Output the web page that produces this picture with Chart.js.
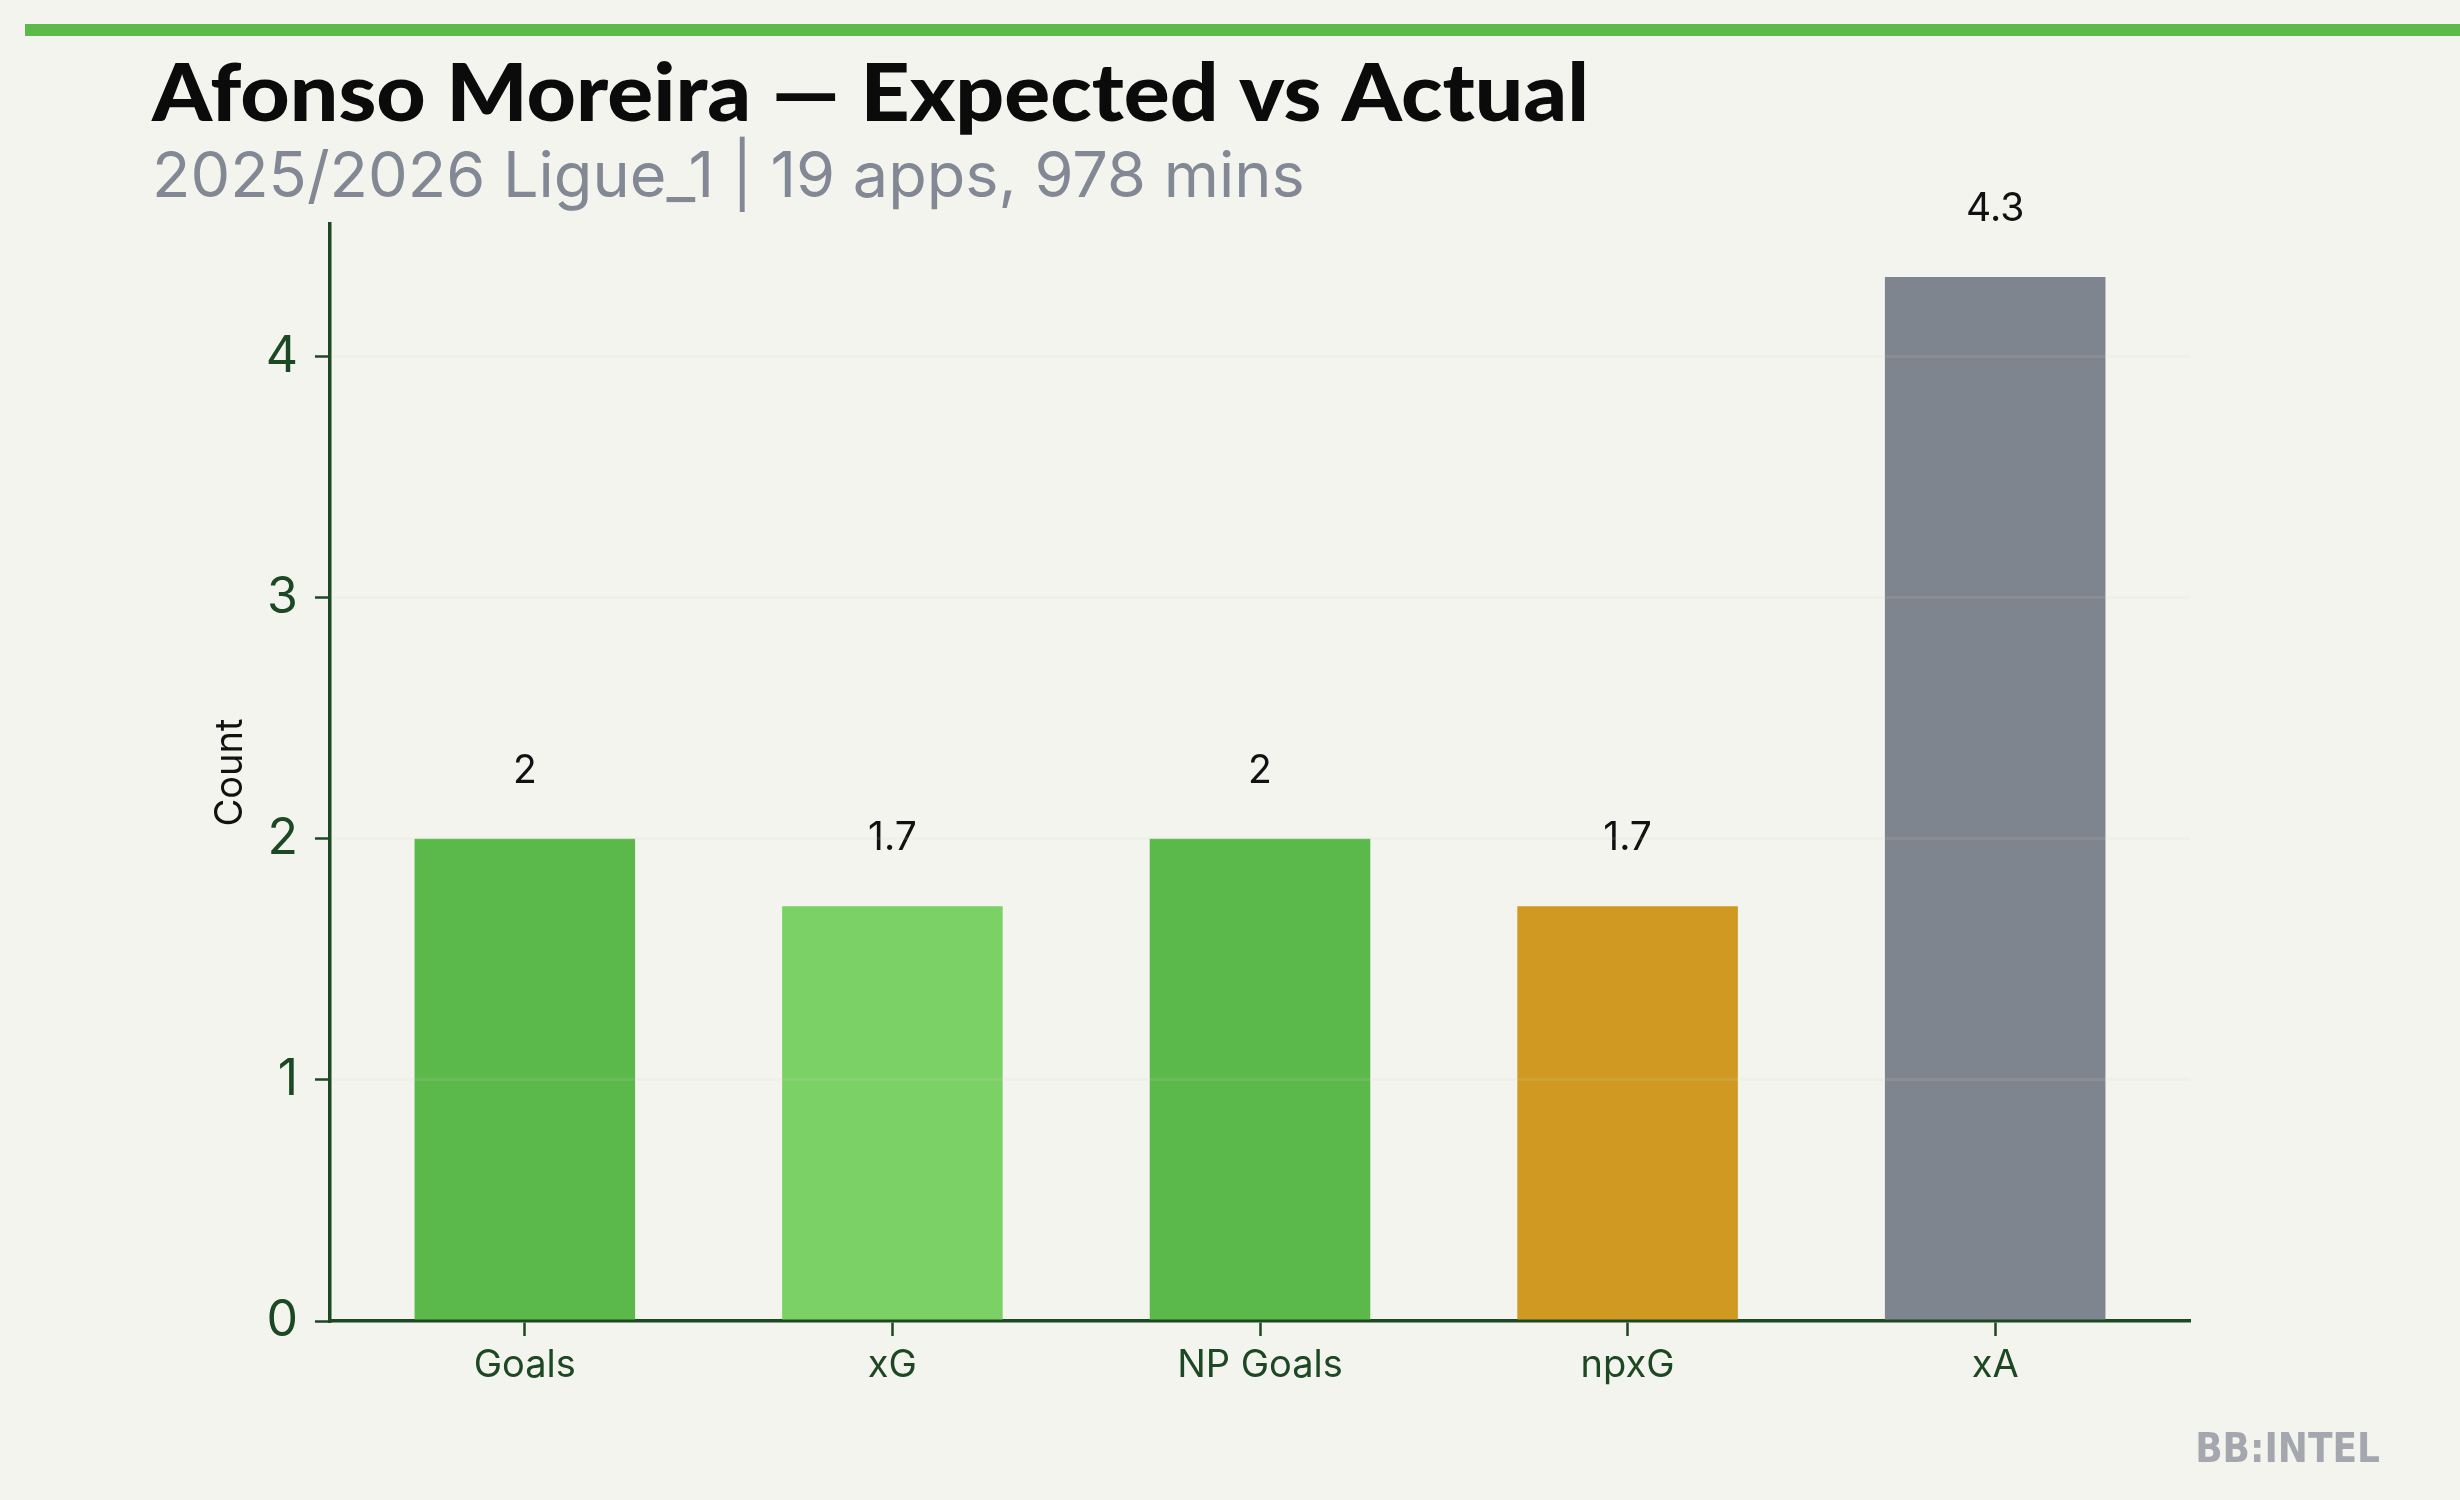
<!DOCTYPE html>
<html>
<head>
<meta charset="utf-8">
<title>Afonso Moreira — Expected vs Actual</title>
<script src="https://cdn.jsdelivr.net/npm/chart.js@4.4.1/dist/chart.umd.min.js"></script>
<style>
  html, body { margin: 0; padding: 0; background: #f4f4ef; }
  canvas { display: block; }
</style>
</head>
<body>
<canvas id="chart" width="2460" height="1500"></canvas>
<script>
// 数据
const categories = ['Goals', 'xG', 'NP Goals', 'npxG', 'xA'];
const values = [2, 1.72, 2, 1.72, 4.33];
const barColors = ['#5ab94a', '#7bd165', '#5ab94a', '#d09a22', '#7f858f'];
const yTicks = [0, 1, 2, 3, 4];

const titleText = 'Afonso Moreira — Expected vs Actual';
const subtitleText = '2025/2026 Ligue_1 | 19 apps, 978 mins';

const axisGreen = '#1c4823';
const bg = '#f4f4ef';

// 背景、标题、水印
const decorPlugin = {
    id: 'decor',
    beforeDraw(chart) {
        const ctx = chart.ctx;
        ctx.save();
        ctx.fillStyle = bg;
        ctx.fillRect(0, 0, chart.width, chart.height);
        // 顶部绿条
        ctx.fillStyle = '#5cb94a';
        ctx.fillRect(25, 24, chart.width - 25, 12);
        ctx.restore();
    },
    afterDraw(chart) {
        const ctx = chart.ctx;
        ctx.save();
        // 标题
        ctx.fillStyle = '#0b0b0b';
        ctx.font = '900 80px Lato, "DejaVu Sans", sans-serif';
        ctx.textBaseline = 'alphabetic';
        ctx.textAlign = 'left';
        const w = ctx.measureText(titleText).width;
        const sx = 1437 / w;
        ctx.save();
        ctx.translate(152, 121);
        ctx.scale(sx, 1);
        ctx.fillText(titleText, 0, 0);
        ctx.restore();

        // 副标题
        ctx.fillStyle = '#828995';
        ctx.font = '400 63px Inter, "Noto Sans", sans-serif';
        ctx.fillText(subtitleText, 152, 197);

        // 水印
        ctx.fillStyle = '#a4a8ae';
        ctx.font = 'bold 40px "DejaVu Sans Condensed", "Liberation Sans Narrow", "DejaVu Sans", sans-serif';
        ctx.textAlign = 'right';
        ctx.fillText('BB:INTEL', 2380, 1462);
        ctx.restore();
    }
};

// 柱顶数值
const valueLabelPlugin = {
    id: 'valueLabels',
    afterDatasetsDraw(chart) {
        const ctx = chart.ctx;
        const meta = chart.getDatasetMeta(0);
        ctx.save();
        ctx.fillStyle = '#111111';
        ctx.font = '400 39px Inter, "Noto Sans", sans-serif';
        ctx.textAlign = 'center';
        ctx.textBaseline = 'alphabetic';
        meta.data.forEach((bar, i) => {
            const v = Math.round(values[i] * 10) / 10;
            ctx.fillText(String(v), bar.x, bar.y - 56);
        });
        ctx.restore();
    }
};

new Chart(document.getElementById('chart'), {
    type: 'bar',
    data: {
        datasets: [{
            data: values.map((v, i) => ({ x: i, y: v })),
            backgroundColor: barColors,
            borderWidth: 0,
            barPercentage: 0.6,
            categoryPercentage: 1.0
        }]
    },
    options: {
        responsive: false,
        devicePixelRatio: 1,
        animation: false,
        layout: { padding: { left: 0, top: 224, right: 270, bottom: 0 } },
        plugins: {
            legend: { display: false },
            tooltip: { enabled: false }
        },
        scales: {
            x: {
                type: 'linear',
                min: -0.53,
                max: 4.53,
                offset: false,
                afterBuildTicks(scale) {
                    scale.ticks = categories.map((c, i) => ({ value: i }));
                },
                afterFit(scale) { scale.height = 179; },
                ticks: {
                    callback: (v) => categories[v],
                    color: axisGreen,
                    font: { family: 'Inter', size: 38 },
                    padding: 7,
                    maxRotation: 0,
                    autoSkip: false
                },
                grid: {
                    offset: false,
                    drawOnChartArea: false,
                    tickLength: 15,
                    tickColor: axisGreen,
                    tickWidth: 2.5
                },
                border: { color: axisGreen, width: 3.5 }
            },
            y: {
                min: 0,
                max: 4.55,
                afterBuildTicks(scale) {
                    scale.ticks = yTicks.map(v => ({ value: v }));
                },
                afterFit(scale) { scale.width = 330; },
                ticks: {
                    color: axisGreen,
                    font: { family: 'Inter', size: 50 },
                    padding: 17
                },
                grid: {
                    z: 1,
                    lineWidth: 3,
                    color: (c) => c.tick && c.tick.value === 0 ? 'rgba(0,0,0,0)' : 'rgba(210,214,200,0.12)',
                    tickLength: 15,
                    tickColor: axisGreen,
                    tickWidth: 2.5
                },
                border: { color: axisGreen, width: 3.5, z: 2 },
                title: {
                    display: true,
                    text: 'Count',
                    color: '#111111',
                    font: { family: 'Inter', size: 38 },
                    padding: { top: 208, bottom: 0 }
                }
            }
        }
    },
    plugins: [decorPlugin, valueLabelPlugin]
});
</script>
</body>
</html>
